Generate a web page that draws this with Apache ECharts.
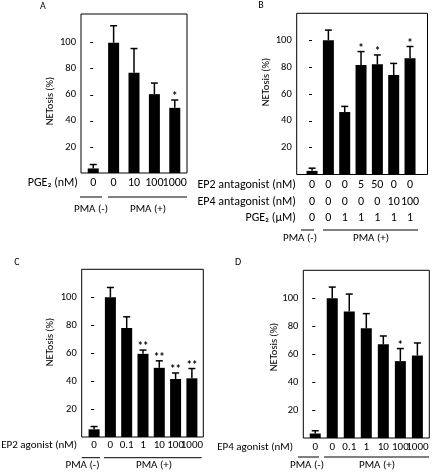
<!DOCTYPE html>
<html>
<head>
<meta charset="utf-8">
<script src="https://cdn.jsdelivr.net/npm/echarts@6/dist/echarts.min.js"></script>
<style>
html,body{margin:0;padding:0;background:#fff;}
#c{width:433px;height:474px;}
</style>
</head>
<body>
<div id="c"></div>
<script>
// ---------- Panel A ----------
const labelsA = ['0', '0', '10', '100', '1000'];
const valuesA = [3.5, 100, 77, 60.5, 50];
const errorsA = [3, 13, 18.5, 8.5, 6];
const sigA = ['', '', '', '', '*'];

// ---------- Panel B ----------
const ep2AntB = ['0', '0', '0', '5', '50', '0', '0'];
const ep4AntB = ['0', '0', '0', '0', '0', '10', '100'];
const pgeB = ['0', '0', '1', '1', '1', '1', '1'];
const valuesB = [2.7, 100, 46.5, 81.5, 82, 74, 86.5];
const errorsB = [2, 7.5, 4.2, 10, 7, 8.7, 8.8];
const sigB = ['', '', '', '*', '*', '', '*'];

// ---------- Panel C ----------
const labelsC = ['0', '0', '0.1', '1', '10', '100', '1000'];
const valuesC = [5.5, 100, 78, 59.5, 49.5, 41.5, 42];
const errorsC = [2, 7, 8, 2.7, 5, 4.3, 7];
const sigC = ['', '', '', '**', '**', '**', '**'];

// ---------- Panel D ----------
const labelsD = ['0', '0', '0.1', '1', '10', '100', '1000'];
const valuesD = [3.2, 100, 90.5, 78.5, 67, 55, 59];
const errorsD = [2, 8, 12.5, 10.5, 6, 9, 9];
const sigD = ['', '', '', '', '', '*', ''];

const yTicks = [20, 40, 60, 80, 100];

const FONT = 'Carlito, Lato, sans-serif';
const chart = echarts.init(document.getElementById('c'), null, {renderer: 'canvas'});

const panels = [
  {grid: {left: 81, top: 14, width: 106, height: 159}, xmin: -0.6, xmax: 4.6, ymax: 122,
   labels: labelsA, fontSize: 12, lineHeight: 14, margin: 3,
   values: valuesA, errors: errorsA, sig: sigA},
  {grid: {left: 296.7, top: 13.3, width: 130.8, height: 161.2}, xmin: -0.94, xmax: 7.07, ymax: 120,
   labels: ep2AntB.map((s, i) => s + '\n' + ep4AntB[i] + '\n' + pgeB[i]), fontSize: 12, lineHeight: 16.7, margin: 2,
   values: valuesB, errors: errorsB, sig: sigB},
  {grid: {left: 81.7, top: 269.3, width: 121.6, height: 167.7}, xmin: -0.76, xmax: 6.7, ymax: 120,
   labels: labelsC, fontSize: 11, lineHeight: 13, margin: 1.5,
   values: valuesC, errors: errorsC, sig: sigC},
  {grid: {left: 303.3, top: 270.3, width: 126, height: 167.7}, xmin: -0.7, xmax: 6.7, ymax: 120,
   labels: labelsD, fontSize: 11, lineHeight: 13, margin: 2.5,
   values: valuesD, errors: errorsD, sig: sigD}
];

const grids = [], xAxes = [], yAxes = [], series = [];
panels.forEach((p, k) => {
  grids.push(Object.assign({show: true, borderColor: '#000', borderWidth: 1,
    backgroundColor: 'transparent', containLabel: false, outerBoundsMode: 'none'}, p.grid));
  // two bottom x axes per panel (even / odd categories) so neighbouring labels never get culled
  [0, 1].forEach(parity => {
    xAxes.push({
      type: 'value', gridIndex: k, position: 'bottom', offset: 0, min: p.xmin, max: p.xmax,
      axisLine: {show: false}, axisTick: {show: false}, splitLine: {show: false},
      axisLabel: {
        customValues: p.values.map((v, i) => i).filter(i => i % 2 === parity),
        formatter: v => p.labels[Math.round(v)] || '',
        hideOverlap: false,
        fontFamily: FONT, fontSize: p.fontSize, color: '#000', margin: p.margin,
        lineHeight: p.lineHeight, verticalAlign: 'top'
      }
    });
  });
  yAxes.push({
    type: 'value', gridIndex: k, min: 0, max: p.ymax, interval: 20,
    axisLine: {show: false}, splitLine: {show: false},
    axisTick: {show: true, inside: false, length: 3, customValues: yTicks,
      lineStyle: {color: '#000', width: 1}},
    axisLabel: {customValues: yTicks, fontFamily: FONT, fontSize: 10.5, color: '#000', margin: 5}
  });
  series.push({
    type: 'bar', xAxisIndex: 2 * k, yAxisIndex: k, barWidth: 11,
    itemStyle: {color: '#000'}, silent: true,
    data: p.values.map((v, i) => [i, v])
  });
  series.push({
    type: 'custom', xAxisIndex: 2 * k, yAxisIndex: k, silent: true, clip: false,
    data: p.values.map((v, i) => [i, v, p.errors[i]]),
    renderItem: (params, api) => {
      const x = api.value(0), v = api.value(1), e = api.value(2);
      const a = api.coord([x, v]);
      const b = api.coord([x, v + e]);
      const s = p.sig[params.dataIndex];
      const children = [
        {type: 'line', shape: {x1: a[0], y1: a[1], x2: b[0], y2: b[1]}, style: {stroke: '#000', lineWidth: 1.5}},
        {type: 'line', shape: {x1: b[0] - 3.5, y1: b[1], x2: b[0] + 3.5, y2: b[1]}, style: {stroke: '#000', lineWidth: 1.5}}
      ];
      if (s) {
        children.push({type: 'text', x: b[0], y: b[1] + 3,
          style: {text: s, textAlign: 'center', textVerticalAlign: 'bottom',
            fontFamily: FONT, fontSize: 11, fontWeight: 'bold', fill: '#000'}});
      }
      return {type: 'group', children};
    }
  });
});

function txt(x, y, text, size, opts) {
  return Object.assign({type: 'text', x, y, silent: true,
    style: Object.assign({text, fontFamily: FONT, fontSize: size, fill: '#000', textAlign: 'center', textVerticalAlign: 'middle'}, opts || {})});
}
function ln(x1, x2, y) {
  return {type: 'line', silent: true, shape: {x1, y1: y, x2, y2: y}, style: {stroke: '#000', lineWidth: 1}};
}
function ytitle(x, y) {
  return {type: 'text', x, y, rotation: Math.PI / 2, silent: true,
    style: {text: 'NETosis (%)', fontFamily: FONT, fontSize: 10.5, fill: '#000', textAlign: 'center', textVerticalAlign: 'middle'}};
}

const graphics = [
  // panel letters
  txt(43, 6, 'A', 10), txt(261, 5, 'B', 10), txt(17, 262, 'C', 10), txt(238, 262, 'D', 10),
  // y titles
  ytitle(50, 101), ytitle(266, 82), ytitle(50, 342), ytitle(274, 347),
  // A
  txt(78, 183, 'PGE₂ (nM)', 12, {textAlign: 'right'}),
  ln(80, 102, 197), ln(108, 187, 197),
  txt(91, 209.5, 'PMA (-)', 11), txt(148, 209.5, 'PMA (+)', 11),
  // B
  txt(296, 185, 'EP2 antagonist (nM)', 12, {textAlign: 'right'}),
  txt(296, 201.7, 'EP4 antagonist (nM)', 12, {textAlign: 'right'}),
  txt(296, 218.3, 'PGE₂ (μM)', 12, {textAlign: 'right'}),
  ln(301, 314, 230), ln(323, 418, 230),
  txt(300, 238, 'PMA (-)', 11), txt(371, 238, 'PMA (+)', 11),
  // C
  txt(77, 445, 'EP2 agonist (nM)', 11, {textAlign: 'right'}),
  ln(81.7, 100, 457.7), ln(104, 201.7, 457.7),
  txt(82.5, 465.5, 'PMA (-)', 11), txt(154, 465.5, 'PMA (+)', 11),
  // D
  txt(293, 447, 'EP4 agonist (nM)', 11, {textAlign: 'right'}),
  ln(298, 319, 457), ln(324, 429, 457),
  txt(307, 465.5, 'PMA (-)', 11), txt(377, 465.5, 'PMA (+)', 11)
];

chart.setOption({
  animation: false,
  backgroundColor: '#fff',
  grid: grids, xAxis: xAxes, yAxis: yAxes, series,
  graphic: graphics
});
</script>
</body>
</html>
